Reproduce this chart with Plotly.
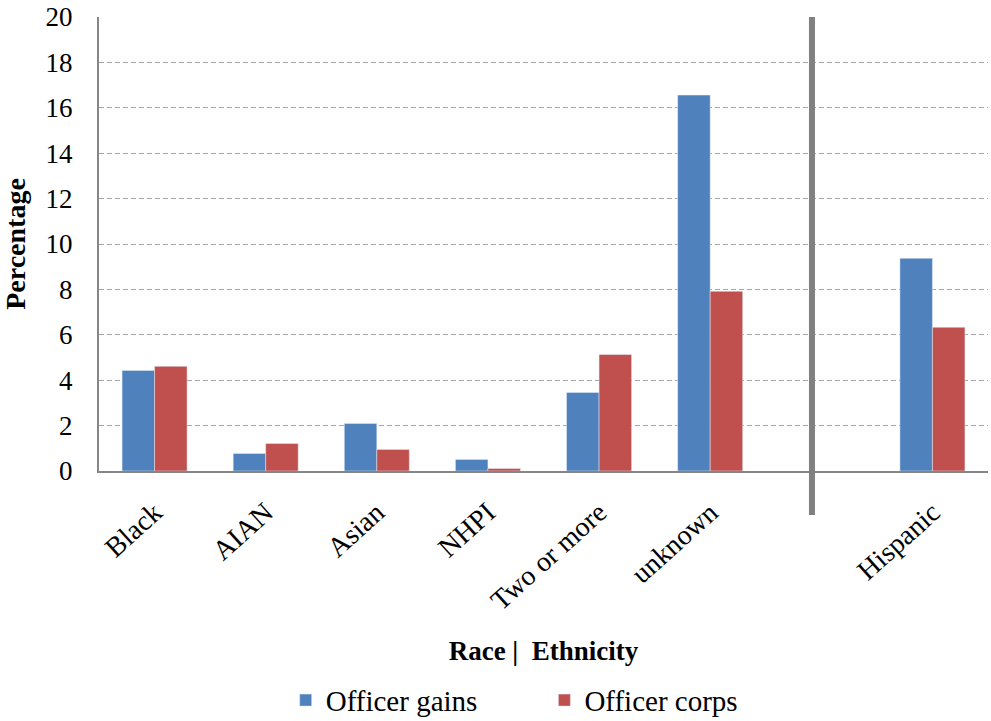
import plotly.graph_objects as go

# datos
categories = ["Black", "AIAN", "Asian", "NHPI", "Two or more", "unknown", " ", "Hispanic"]
officer_gains = [4.43, 0.77, 2.09, 0.51, 3.46, 16.56, None, 9.37]
officer_corps = [4.61, 1.21, 0.95, 0.11, 5.13, 7.92, None, 6.33]
y_ticks = [0, 2, 4, 6, 8, 10, 12, 14, 16, 18, 20]

FONT = "Liberation Serif"

fig = go.Figure()
fig.add_trace(go.Bar(
    x=categories, y=officer_gains,
    name="Officer gains",
    marker_color="#4F81BD",
    legend="legend",
))
fig.add_trace(go.Bar(
    x=categories, y=officer_corps,
    name="Officer corps",
    marker_color="#C0504D",
    legend="legend2",
))

# linea separadora entre raza y etnia
fig.add_shape(
    type="line", xref="paper", yref="paper",
    x0=0.802, x1=0.802, y0=1.0, y1=-0.097,
    line=dict(color="#808080", width=6),
)

leg = dict(
    orientation="h",
    xanchor="left",
    y=-0.505, yanchor="middle",
    font=dict(family=FONT, size=29),
    itemwidth=30,
    bgcolor="rgba(0,0,0,0)",
)

fig.update_layout(
    width=991, height=721,
    margin=dict(l=99, r=3, t=17, b=250, autoexpand=False),
    plot_bgcolor="white",
    paper_bgcolor="white",
    font=dict(family=FONT, size=26, color="black"),
    barmode="group",
    bargap=0.415,
    bargroupgap=0,
    showlegend=True,
    legend=dict(leg, x=0.21),
    legend2=dict(leg, x=0.501),
    xaxis=dict(
        type="category",
        tickangle=-42,
        showline=True, linecolor="#868686", linewidth=2,
        showgrid=False,
        ticks="",
        ticklabelstandoff=12,
        tickfont=dict(family=FONT, size=28),
        title=dict(text="<b>Race |  Ethnicity</b>", standoff=26,
                   font=dict(family=FONT, size=27)),
        automargin=False,
    ),
    yaxis=dict(
        range=[0, 20],
        tickvals=y_ticks,
        showline=True, linecolor="#868686", linewidth=2,
        showgrid=True, gridcolor="#A6A6A6", gridwidth=1, griddash="5px,3px",
        zeroline=False,
        ticks="",
        ticklabelstandoff=19,
        tickfont=dict(family=FONT, size=27),
        title=dict(text="<b>Percentage</b>", standoff=13,
                   font=dict(family=FONT, size=28)),
        automargin=False,
    ),
)

# quitar el margen del body para que el grafico quede en 0,0
fig.write_html("out.html", config={"displayModeBar": False},
               post_script="document.body.style.margin='0';")
